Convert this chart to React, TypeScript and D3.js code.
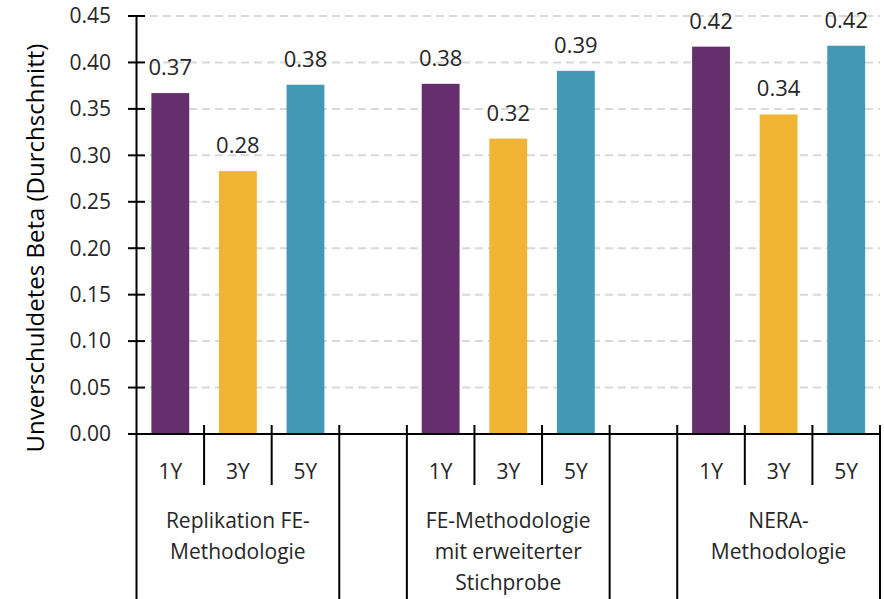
import React from "react";
import * as d3 from "d3";

// Average unlevered beta per methodology and estimation window
const groupLabels: string[][] = [
  ["Replikation FE-", "Methodologie"],
  ["FE-Methodologie", "mit erweiterter", "Stichprobe"],
  ["NERA-", "Methodologie"],
];
const horizons = ["1Y", "3Y", "5Y"];
const beta1Y = [0.367, 0.377, 0.417];
const beta3Y = [0.283, 0.318, 0.344];
const beta5Y = [0.376, 0.391, 0.418];
const yTicks = [0, 0.05, 0.1, 0.15, 0.2, 0.25, 0.3, 0.35, 0.4, 0.45];
const colors = ["#652E6C", "#F1B434", "#4399B5"];

const W = 884;
const H = 599;
const FONT = "'Open Sans', 'Noto Sans', sans-serif";
const TEXT = "#262626";

export default function App() {
  const seriesValues = [beta1Y, beta3Y, beta5Y];

  // slots: three bars per group plus one empty spacer slot between groups
  const slots: { key: string; group: number; h: number }[] = [];
  groupLabels.forEach((_, g) => {
    horizons.forEach((_, h) => slots.push({ key: `${g}-${h}`, group: g, h }));
    if (g < groupLabels.length - 1) slots.push({ key: `gap-${g}`, group: g, h: -1 });
  });

  const left = 136.5;
  const right = 880;
  const x = d3
    .scaleBand<string>()
    .domain(slots.map((s) => s.key))
    .range([left, right])
    .paddingInner(0.44)
    .paddingOuter(0.22);
  const step = x.step();

  const y = d3.scaleLinear().domain([0, 0.45]).range([434, 16]);
  const fmt = d3.format(".2f");
  const axisY = y(0);

  const bars: JSX.Element[] = [];
  const valueLabels: JSX.Element[] = [];
  const catLabels: JSX.Element[] = [];
  slots.forEach((s) => {
    if (s.h < 0) return;
    const v = seriesValues[s.h][s.group];
    const bx = x(s.key)!;
    const cx = bx + x.bandwidth() / 2;
    bars.push(
      <rect key={s.key} x={bx} y={y(v)} width={x.bandwidth()} height={axisY - y(v)} fill={colors[s.h]} />
    );
    valueLabels.push(
      <text key={s.key} x={cx} y={y(v) - 18} textAnchor="middle" fontSize={22} fill={TEXT}>
        {fmt(v)}
      </text>
    );
    catLabels.push(
      <text key={s.key} x={cx} y={479} textAnchor="middle" fontSize={21} fill={TEXT}>
        {horizons[s.h]}
      </text>
    );
  });

  // boundaries between slots: short ticks inside a group, full lines between groups
  const boundaries: JSX.Element[] = [];
  for (let i = 1; i <= slots.length; i++) {
    const bxp = left + i * step;
    const prev = slots[i - 1];
    const next = slots[i];
    const inner = prev && next && prev.h >= 0 && next.h >= 0;
    boundaries.push(
      <line key={i} x1={bxp} x2={bxp} y1={425} y2={inner ? 485 : H} stroke="#000" strokeWidth={2} />
    );
  }

  const groupText = groupLabels.map((lines, g) => {
    const first = x(`${g}-0`)! - step * 0.22;
    const cx = first + (step * 3) / 2;
    return (
      <text key={g} textAnchor="middle" fontSize={21} fill={TEXT}>
        {lines.map((ln, k) => (
          <tspan key={k} x={cx} y={528 + k * 31}>
            {ln}
          </tspan>
        ))}
      </text>
    );
  });

  return (
    <svg
      width={W}
      height={H}
      style={{ position: "absolute", left: 0, top: 0, background: "#fff", fontFamily: FONT }}
    >
      {/* horizontal gridlines */}
      {yTicks
        .filter((t) => t > 0)
        .map((t) => (
          <line
            key={t}
            x1={150}
            x2={right}
            y1={y(t)}
            y2={y(t)}
            stroke="#d9d9d9"
            strokeWidth={2}
            strokeDasharray="8,5"
          />
        ))}

      {bars}

      {/* y axis */}
      <line x1={left} x2={left} y1={y(0.45)} y2={H} stroke="#000" strokeWidth={2} />
      {yTicks.map((t) => (
        <g key={t}>
          <line x1={128} x2={145} y1={y(t)} y2={y(t)} stroke="#000" strokeWidth={2} />
          <text x={111} y={y(t)} dy="0.35em" textAnchor="end" fontSize={21} fill={TEXT}>
            {fmt(t)}
          </text>
        </g>
      ))}
      <text
        transform={`translate(36,248) rotate(-90)`}
        textAnchor="middle"
        dy="0.35em"
        fontSize={24}
        fill="#000"
      >
        Unverschuldetes Beta (Durchschnitt)
      </text>

      {/* x axis */}
      <line x1={128} x2={right} y1={axisY} y2={axisY} stroke="#000" strokeWidth={2} />
      {boundaries}
      {catLabels}
      {groupText}
      {valueLabels}
    </svg>
  );
}
